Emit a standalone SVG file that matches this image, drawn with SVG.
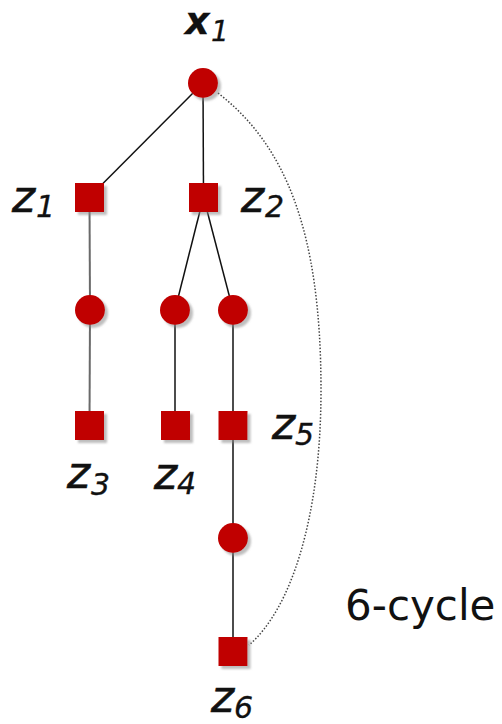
<svg xmlns="http://www.w3.org/2000/svg" width="502" height="724" viewBox="0 0 502 724">
<defs>
<filter id="sh" x="-30%" y="-30%" width="170%" height="170%">
<feDropShadow dx="3" dy="3" stdDeviation="1.2" flood-color="#888" flood-opacity="0.55"/>
</filter>
</defs>
<style>
.v{fill:#c00000;filter:url(#sh)}
.e{stroke:#111;stroke-width:1.5;fill:none}
.eg{stroke:#6a6a6a;stroke-width:2;fill:none}
.cyc{stroke:#444;stroke-width:1.5;fill:none;stroke-dasharray:1.5 1.8}
.lab{font-family:"DejaVu Sans",Verdana,sans-serif;font-style:italic;font-size:44px;fill:#111;stroke:#111;stroke-width:0.7}
.sub{font-size:30px;stroke-width:0.3}
.xl{font-weight:bold;font-size:38px;stroke-width:0.3}
.xs{font-size:28px;font-weight:normal}
.t{font-family:"DejaVu Sans",Verdana,sans-serif;font-size:42px;fill:#111}
</style>
<g id="connectors">
<line class="e" x1="203" y1="83" x2="89.5" y2="197"/>
<line class="e" x1="203" y1="83" x2="203.5" y2="197"/>
<line class="eg" x1="89.5" y1="197" x2="90" y2="310"/>
<line class="eg" x1="90" y1="310" x2="89.5" y2="425"/>
<line class="e" x1="203.5" y1="197" x2="175" y2="310"/>
<line class="e" x1="203.5" y1="197" x2="233" y2="310"/>
<line class="e" x1="175" y1="310" x2="175" y2="425"/>
<line class="e" x1="233" y1="310" x2="233" y2="651"/>
<path class="cyc" d="M218,93 C285,145 321,230 321,390 C321,520 290,610 249,645"/>
</g>
<g id="x1"><circle class="v" cx="203" cy="83" r="15"/><text class="lab xl" x="185" y="34">x<tspan class="xs" x="211" y="41">1</tspan></text></g>
<g id="z1"><rect class="v" x="75" y="183" width="29" height="29"/><text class="lab" x="12" y="212">z<tspan class="sub" x="36" y="217">1</tspan></text></g>
<g id="z2"><rect class="v" x="189" y="183" width="29" height="29"/><text class="lab" x="241" y="212">z<tspan class="sub" x="265" y="217">2</tspan></text></g>
<g id="c1"><circle class="v" cx="90" cy="310" r="15"/></g>
<g id="c2"><circle class="v" cx="175" cy="310" r="15"/></g>
<g id="c3"><circle class="v" cx="233" cy="310" r="15"/></g>
<g id="z3"><rect class="v" x="75" y="411" width="29" height="29"/><text class="lab" x="67" y="488">z<tspan class="sub" x="91" y="495">3</tspan></text></g>
<g id="z4"><rect class="v" x="161" y="411" width="29" height="29"/><text class="lab" x="154" y="489">z<tspan class="sub" x="177" y="494">4</tspan></text></g>
<g id="z5"><rect class="v" x="218.5" y="411" width="29" height="29"/><text class="lab" x="272" y="439">z<tspan class="sub" x="295" y="445">5</tspan></text></g>
<g id="c4"><circle class="v" cx="233" cy="538" r="15"/></g>
<g id="z6"><rect class="v" x="218.5" y="637" width="29" height="29"/><text class="lab" x="211" y="712">z<tspan class="sub" x="234" y="718">6</tspan></text></g>
<g id="label"><text class="t" x="345" y="620">6-cycle</text></g>
</svg>
